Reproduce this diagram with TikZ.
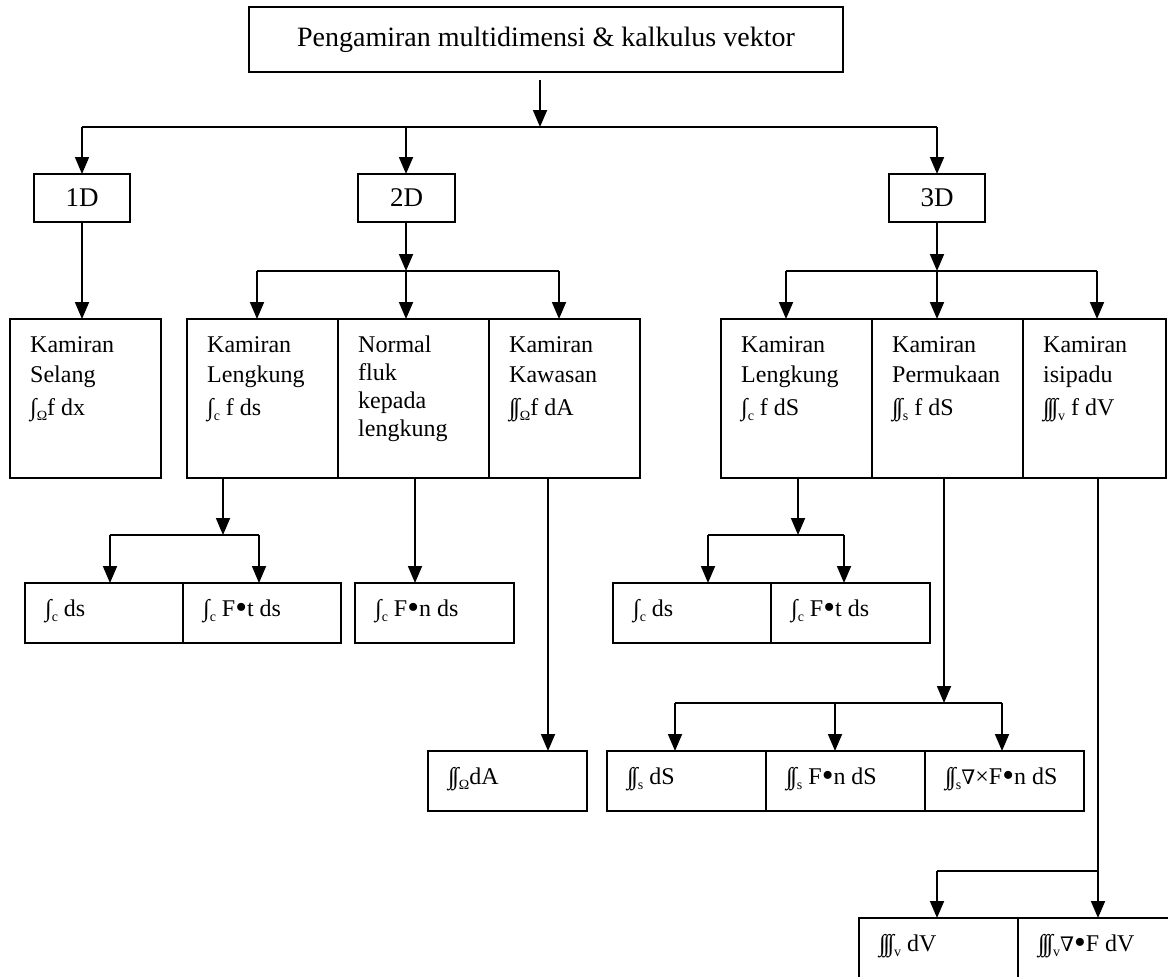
\documentclass[tikz,border=0pt]{standalone}
\usepackage{fontspec}
\usepackage{graphicx}
\setmainfont{Liberation Serif}
\newfontfamily\symf{DejaVu Serif}
\usetikzlibrary{arrows.meta}
\newcommand\sbx[1]{\raisebox{-0.2em}{\fontsize{14}{14}\selectfont #1}}
\newcommand\Ione{∫}
\newcommand\Itwo{∫\kern-0.1em∫}
\newcommand\Ithree{∫\kern-0.1em∫\kern-0.1em∫}
\newcommand\nab{{\symf\fontsize{20}{20}\selectfont ∇}}
\newcommand\bul{\raisebox{-0.08em}{\scalebox{1.4}{•}}}
\newcommand\firstline{\rule{0pt}{24pt}}
\tikzset{
  cellbox/.style={draw, line width=1.7pt, inner sep=0pt, outer sep=0pt, anchor=north west},
  txt/.style={anchor=north west, inner sep=0pt, align=left, font=\fontsize{24}{30}\selectfont},
  conn/.style={line width=1.8pt},
  arr/.style={line width=1.8pt, -{Triangle[width=14pt,length=17pt]}},
}
\newcommand\cell[5]{\node[cellbox, minimum width=#4pt, minimum height=#5pt] (#1) at (#2,#3) {};}
\newcommand\ctext[2]{\node[txt] (t#1) at ([xshift=20pt,yshift=-9pt]#1.north west) {\firstline #2};}
\begin{document}
\begin{tikzpicture}[x=1pt,y=-1pt]
\useasboundingbox (0,0) rectangle (1168,977);
% top
\node[cellbox, minimum width=594pt, minimum height=65pt, font=\fontsize{28}{30}\selectfont] (top) at (249,7) {Pengamiran multidimensi \& kalkulus vektor};
% dimension boxes
\node[cellbox, minimum width=96pt, minimum height=48pt, font=\fontsize{27}{30}\selectfont] (d1) at (34,174) {1D};
\node[cellbox, minimum width=97pt, minimum height=48pt, font=\fontsize{27}{30}\selectfont] (d2) at (358,174) {2D};
\node[cellbox, minimum width=96pt, minimum height=48pt, font=\fontsize{27}{30}\selectfont] (d3) at (889,174) {3D};
% level 2 cells
\cell{selang}{10}{319}{151}{159}
\cell{lk2}{187}{319}{151}{159}
\cell{nf}{338}{319}{151}{159}
\cell{kw}{489}{319}{151}{159}
\cell{lk3}{721}{319}{151}{159}
\cell{pm}{872}{319}{151}{159}
\cell{ip}{1023}{319}{143}{159}
\ctext{selang}{Kamiran\\Selang\\[3pt]\Ione\sbx{Ω}f dx}
\ctext{lk2}{Kamiran\\Lengkung\\[3pt]\Ione\sbx{c} f ds}
\ctext{nf}{Normal\\[-2pt]fluk\\[-2pt]kepada\\[-2pt]lengkung}
\ctext{kw}{Kamiran\\Kawasan\\[3pt]\Itwo\sbx{Ω}f dA}
\ctext{lk3}{Kamiran\\Lengkung\\[3pt]\Ione\sbx{c} f dS}
\ctext{pm}{Kamiran\\Permukaan\\[3pt]\Itwo\sbx{s} f dS}
\ctext{ip}{Kamiran\\isipadu\\[3pt]\Ithree\sbx{v} f dV}
% level 3 cells
\cell{cdsa}{25}{583}{158}{60}
\cell{cfta}{183}{583}{158}{60}
\cell{cfn}{355}{583}{159}{60}
\cell{cdsb}{613}{583}{158}{60}
\cell{cftb}{771}{583}{159}{60}
\ctext{cdsa}{\Ione\sbx{c} ds}
\ctext{cfta}{\Ione\sbx{c} F\bul t ds}
\ctext{cfn}{\Ione\sbx{c} F\bul n ds}
\ctext{cdsb}{\Ione\sbx{c} ds}
\ctext{cftb}{\Ione\sbx{c} F\bul t ds}
\cell{dA}{428}{751}{159}{60}
\cell{sdS}{607}{751}{159}{60}
\cell{sFn}{766}{751}{159}{60}
\cell{scurl}{925}{751}{159}{60}
\ctext{dA}{\Itwo\sbx{Ω}dA}
\ctext{sdS}{\Itwo\sbx{s} dS}
\ctext{sFn}{\Itwo\sbx{s} F\bul n dS}
\ctext{scurl}{\Itwo\sbx{s}\nab×F\bul n dS}
\cell{vdV}{859}{918}{159}{80}
\cell{vdiv}{1018}{918}{170}{80}
\ctext{vdV}{\Ithree\sbx{v} dV}
\ctext{vdiv}{\Ithree\sbx{v}\nab\bul F dV}
% junction coordinates
\coordinate (j0) at (540,127);
\coordinate (j0a) at (82,127);
\coordinate (j0c) at (937,127);
\coordinate (j2a) at (257,271);
\coordinate (j2b) at (406,271);
\coordinate (j2c) at (559,271);
\coordinate (j3a) at (786,271);
\coordinate (j3b) at (937,271);
\coordinate (j3c) at (1097,271);
\coordinate (k2) at (223,535);
\coordinate (k2a) at (110,535);
\coordinate (k2b) at (259,535);
\coordinate (xn) at (415,535);
\coordinate (xk) at (548,535);
\coordinate (k3) at (798,535);
\coordinate (k3a) at (708,535);
\coordinate (k3b) at (844,535);
\coordinate (p3) at (944,703);
\coordinate (p3a) at (675,703);
\coordinate (p3b) at (835,703);
\coordinate (p3c) at (1002,703);
\coordinate (v3) at (1098,871);
\coordinate (v3a) at (937,871);
% connectors: top
\draw[arr] ([yshift=-8pt]top.south -| j0) -- (j0);
\draw[conn] (j0a) -- (j0c);
\draw[arr] (j0a) -- (j0a |- d1.north);
\draw[arr] (j2b |- j0) -- (j2b |- d2.north);
\draw[arr] (j0c) -- (j0c |- d3.north);
% 1D
\draw[arr] (d1.south) -- (d1.south |- selang.north);
% 2D
\draw[arr] (j2b |- d2.south) -- (j2b);
\draw[conn] (j2a) -- (j2c);
\draw[arr] (j2a) -- (j2a |- lk2.north);
\draw[arr] (j2b) -- (j2b |- nf.north);
\draw[arr] (j2c) -- (j2c |- kw.north);
% 3D
\draw[arr] (d3.south) -- (j3b);
\draw[conn] (j3a) -- (j3c);
\draw[arr] (j3a) -- (j3a |- lk3.north);
\draw[arr] (j3b) -- (j3b |- pm.north);
\draw[arr] (j3c) -- (j3c |- ip.north);
% 2D lengkung
\draw[arr] (k2 |- lk2.south) -- (k2);
\draw[conn] (k2a) -- (k2b);
\draw[arr] (k2a) -- (k2a |- cdsa.north);
\draw[arr] (k2b) -- (k2b |- cfta.north);
% normal fluk
\draw[arr] (xn |- nf.south) -- (xn |- cfn.north);
% kawasan
\draw[arr] (xk |- kw.south) -- (xk |- dA.north);
% 3D lengkung
\draw[arr] (k3 |- lk3.south) -- (k3);
\draw[conn] (k3a) -- (k3b);
\draw[arr] (k3a) -- (k3a |- cdsb.north);
\draw[arr] (k3b) -- (k3b |- cftb.north);
% permukaan
\draw[arr] (p3 |- pm.south) -- (p3);
\draw[conn] (p3a) -- (p3c);
\draw[arr] (p3a) -- (p3a |- sdS.north);
\draw[arr] (p3b) -- (p3b |- sFn.north);
\draw[arr] (p3c) -- (p3c |- scurl.north);
% isipadu
\draw[arr] (v3 |- ip.south) -- (v3 |- vdiv.north);
\draw[conn] (v3a) -- (v3);
\draw[arr] (v3a) -- (v3a |- vdV.north);
\end{tikzpicture}
\end{document}
